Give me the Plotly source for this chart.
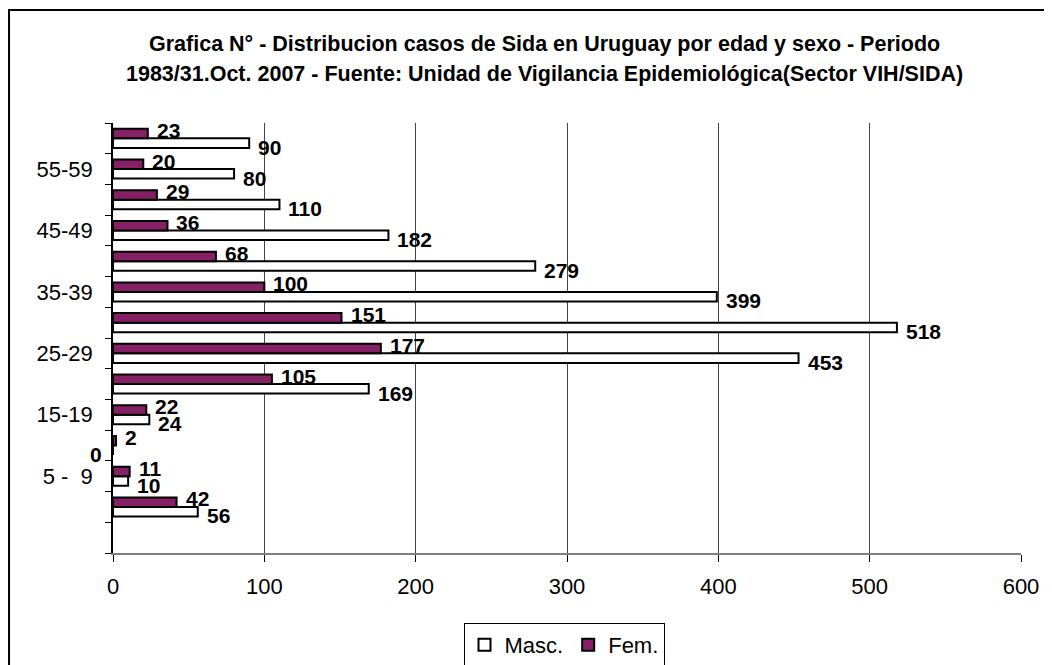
import plotly.graph_objects as go

categories = ["(s/d)", "0 - 4", "5 -  9", "10-14", "15-19", "20-24", "25-29",
              "30-34", "35-39", "40-44", "45-49", "50-54", "55-59", "60 y +"]
tick_labels = ["", "", "5 -  9", "", "15-19", "", "25-29", "", "35-39", "", "45-49", "", "55-59", ""]
masc = [None, 56, 10, 0, 24, 169, 453, 518, 399, 279, 182, 110, 80, 90]
fem = [None, 42, 11, 2, 22, 105, 177, 151, 100, 68, 36, 29, 20, 23]

FONT = "Arial, 'Liberation Sans', sans-serif"
FEM_COLOR = "#862064"
TICK_SIZE = 22
LABEL_SIZE = 21

fig = go.Figure()
fig.add_trace(go.Bar(
    y=categories, x=masc, orientation="h", name="Masc.",
    marker=dict(color="white", line=dict(color="black", width=2)),
))
fig.add_trace(go.Bar(
    y=categories, x=fem, orientation="h", name="Fem.",
    marker=dict(color=FEM_COLOR, line=dict(color="black", width=2)),
))

# data labels at the bar ends (Masc. = lower bar of each group, Fem. = upper bar)
for series, yshift in ((masc, -9), (fem, 8)):
    for c, v in zip(categories, series):
        if v is None:
            continue
        if v == 0:
            fig.add_annotation(x=v, y=c, text="<b>0</b>", showarrow=False, xanchor="right",
                               xshift=-9, yshift=yshift,
                               font=dict(family=FONT, size=LABEL_SIZE, color="black"))
        else:
            fig.add_annotation(x=v, y=c, text="<b>%d</b>" % v, showarrow=False, xanchor="left",
                               xshift=7, yshift=yshift,
                               font=dict(family=FONT, size=LABEL_SIZE, color="black"))

title1 = "<b>Grafica N° - Distribucion casos de Sida en Uruguay por edad y sexo - Periodo</b>"
title2 = "<b>1983/31.Oct. 2007 - Fuente: Unidad de Vigilancia Epidemiológica(Sector VIH/SIDA)</b>"
fig.add_annotation(text=title1, xref="paper", yref="paper", x=0.4747, y=1.1837,
                   showarrow=False, xanchor="center", yanchor="middle",
                   font=dict(family=FONT, size=21.5, color="black"))
fig.add_annotation(text=title2, xref="paper", yref="paper", x=0.4747, y=1.114,
                   showarrow=False, xanchor="center", yanchor="middle",
                   font=dict(family=FONT, size=21.5, color="black"))

# outer chart border
fig.add_shape(type="rect", xref="paper", yref="paper",
              x0=-0.1145, x1=1.2, y0=-0.5, y1=1.2628,
              line=dict(color="black", width=2), fillcolor="rgba(0,0,0,0)", layer="below")

fig.update_layout(
    width=1044, height=657,
    margin=dict(l=105, r=31, t=115, b=112, autoexpand=False),
    paper_bgcolor="white", plot_bgcolor="white",
    barmode="group", bargap=0.38, bargroupgap=0,
    font=dict(family=FONT, size=TICK_SIZE, color="black"),
    showlegend=True,
    legend=dict(orientation="h", x=0.4967, xanchor="center", y=-0.214, yanchor="middle",
                bordercolor="black", borderwidth=1, bgcolor="white",
                font=dict(family=FONT, size=TICK_SIZE, color="black"),
                traceorder="normal", itemwidth=30),
    xaxis=dict(range=[0, 600], tickvals=[0, 100, 200, 300, 400, 500, 600],
               showgrid=True, gridcolor="#444444", gridwidth=1,
               showline=True, linecolor="#808080", linewidth=2,
               ticks="outside", ticklen=7, tickcolor="black",
               ticklabelstandoff=6, zeroline=False,
               tickfont=dict(family=FONT, size=TICK_SIZE, color="black")),
    yaxis=dict(type="category", categoryorder="array", categoryarray=categories,
               tickmode="array", tickvals=categories, ticktext=tick_labels,
               tickson="boundaries", ticks="outside", ticklen=6, tickcolor="black",
               showline=True, linecolor="black", linewidth=1.5,
               showgrid=False, zeroline=False, ticklabelstandoff=14,
               range=[-0.5, 13.5],
               tickfont=dict(family=FONT, size=TICK_SIZE, color="black")),
)

fig.write_html("out.html")
